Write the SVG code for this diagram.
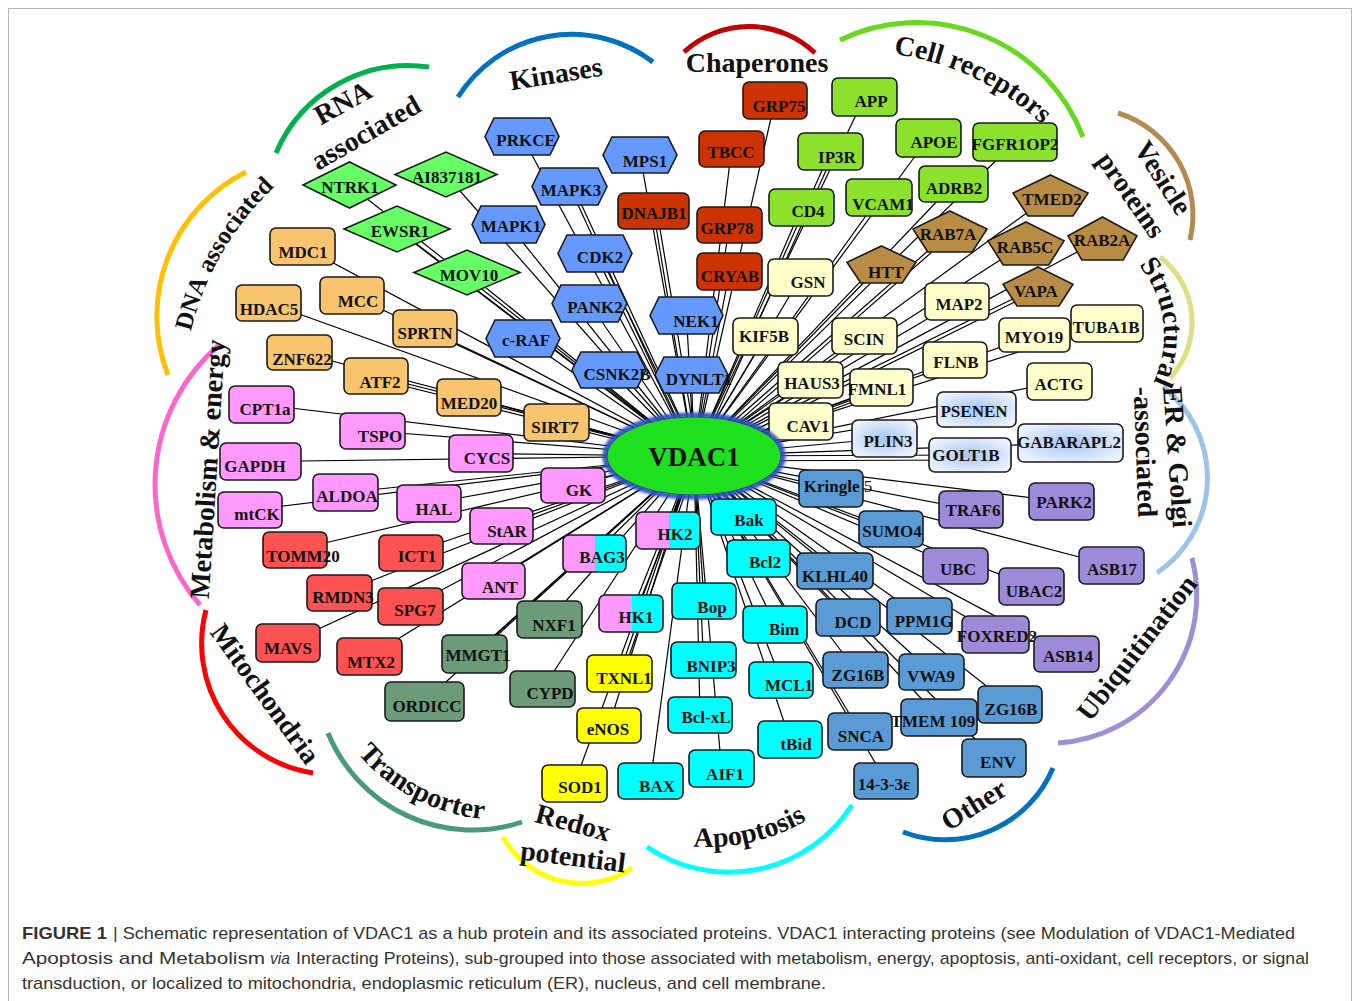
<svg xmlns="http://www.w3.org/2000/svg" width="1356" height="1001" viewBox="0 0 1356 1001">
<defs>
<style>
.n rect,.n polygon{stroke:#1a1a1a;stroke-width:1.6}
.n text{font-family:"Liberation Serif","Times New Roman",serif;font-weight:bold;font-size:17px;text-anchor:middle;fill:#111}
.dna rect{fill:#f8c46e}.met rect{fill:#ff99ff}.mito rect{fill:#ff5252}.trans rect{fill:#6b9b78}
.redox rect{fill:#ffff00}.apo rect{fill:#00ffff}.split rect{fill:url(#pc)}.oth rect{fill:#5b9bd5}
.ubi rect{fill:#9d8bd9}.er rect{fill:url(#erg)}.str rect{fill:#ffffcc}.ves polygon{fill:#b98c46}
.cr rect{fill:#8ce12c}.chap rect{fill:#cc3300}.kin polygon{fill:#6699ff}.rna polygon{fill:#66ff66}
.arc{fill:none;stroke-width:5}
.lab{font-family:"Liberation Serif","Times New Roman",serif;font-weight:bold;font-size:28px;fill:#111;text-anchor:middle}
.labs{font-family:"Liberation Serif","Times New Roman",serif;font-weight:bold;font-size:25px;fill:#111}
#edges line{stroke:#000;stroke-width:1.2}
.cap{font-family:"Liberation Sans",Arial,sans-serif;font-size:17px;fill:#333}
</style>
<linearGradient id="pc" x1="0" y1="0" x2="1" y2="0"><stop offset="0.51" stop-color="#ff99ff"/><stop offset="0.51" stop-color="#00ffff"/></linearGradient>
<radialGradient id="erg" cx="0.5" cy="0.5" r="0.6"><stop offset="0" stop-color="#a4c5f3"/><stop offset="1" stop-color="#eef4fd"/></radialGradient>
<filter id="glow" x="-20%" y="-30%" width="140%" height="160%"><feGaussianBlur stdDeviation="1.6"/></filter>
<path id="pDNA" d="M 183 397 A 292 292 0 0 1 330.8 145.1"/>
<path id="pCell" d="M 876 52.5 A 263 263 0 0 1 1054 137"/>
<path id="pStr" d="M 1135.7 261.4 A 110 110 0 0 1 1151.1 386.6"/>
<path id="pApo" d="M 648.5 838.3 A 200 200 0 0 0 843.4 793.3"/>
<path id="pTra" d="M 345.4 737.6 A 190 190 0 0 0 503.7 820"/>
</defs>
<rect x="8.5" y="8.5" width="1343" height="1010" fill="#fff" stroke="#b5b5b5"/>

<g id="category-arcs">
<path class="arc" stroke="#ffc000" d="M 168 375 A 161 161 0 0 1 246 172"/>
<path class="arc" stroke="#00b050" d="M 276 153 A 144 144 0 0 1 429 67"/>
<path class="arc" stroke="#0070c0" d="M 458 97 A 134 134 0 0 1 653 62"/>
<path class="arc" stroke="#c00000" d="M 684 52 A 95.5 95.5 0 0 1 815 53"/>
<path class="arc" stroke="#66d81e" d="M 840 40 A 178 178 0 0 1 1083 137"/>
<path class="arc" stroke="#b08c50" d="M 1118 113 A 107 107 0 0 1 1190 240"/>
<path class="arc" stroke="#dede82" d="M 1160 257 A 82 82 0 0 1 1170 378"/>
<path class="arc" stroke="#9dc3e6" d="M 1163 387 A 115 115 0 0 1 1157 573"/>
<path class="arc" stroke="#9c8fd6" d="M 1192 558 A 148 148 0 0 1 1058 743"/>
<path class="arc" stroke="#0070c0" d="M 1053 768 A 117 117 0 0 1 903 832"/>
<path class="arc" stroke="#00ffff" d="M 852 805 A 146 146 0 0 1 647 847"/>
<path class="arc" stroke="#ffff00" d="M 632 868 A 90 90 0 0 1 503 837"/>
<path class="arc" stroke="#479a7c" d="M 522 822 A 156 156 0 0 1 328 733"/>
<path class="arc" stroke="#ff0000" d="M 313 773 A 131 131 0 0 1 206 610"/>
<path class="arc" stroke="#ff66cc" d="M 200 605 A 184 184 0 0 1 219 345"/>
</g>

<g id="category-labels">
<text class="labs"><textPath href="#pDNA" startOffset="66">DNA</textPath></text>
<text class="labs"><textPath href="#pDNA" startOffset="127">associated</textPath></text>
<text class="lab" transform="translate(343,103) rotate(-29)" y="9">RNA</text>
<text class="lab" transform="translate(366,133) rotate(-30)" y="9">associated</text>
<text class="lab" transform="translate(556,74) rotate(-9)" y="9">Kinases</text>
<text class="lab" x="757" y="72">Chaperones</text>
<text class="lab"><textPath href="#pCell" startOffset="50%">Cell receptors</textPath></text>
<text class="lab" transform="translate(1163,178) rotate(57)" y="9">Vesicle</text>
<text class="lab" transform="translate(1131,195) rotate(55)" y="9">proteins</text>
<text class="lab" font-size="23"><textPath href="#pStr" startOffset="50%">Structural</textPath></text>
<text class="lab" font-size="26" transform="translate(1177,457) rotate(86)" y="9">ER &amp; Golgi</text>
<text class="lab" font-size="26" transform="translate(1145,452) rotate(88)" y="9">-associated</text>
<text class="lab" font-size="25" transform="translate(1137,648) rotate(-52)" y="9">Ubiquitination</text>
<text class="lab" font-size="27" transform="translate(974,805) rotate(-32)" y="9">Other</text>
<text class="lab"><textPath href="#pApo" startOffset="50%">Apoptosis</textPath></text>
<text class="lab" font-size="27" transform="translate(573,823) rotate(15)" y="9">Redox</text>
<text class="lab" font-size="27" transform="translate(573,857) rotate(7)" y="9">potential</text>
<text class="lab" font-size="24"><textPath href="#pTra" startOffset="50%">Transporter</textPath></text>
<text class="lab" font-size="26" transform="translate(265,694) rotate(54)" y="9">Mitochondria</text>
<text class="lab" font-size="25" transform="translate(208,469) rotate(-86.4)" y="9">Metabolism &amp; energy</text>
</g>

<g id="edges">
<line x1="302.5" y1="246.5" x2="694" y2="456"/><line x1="352" y1="295.5" x2="694" y2="456"/><line x1="268.5" y1="303" x2="694" y2="456"/><line x1="425" y1="328.5" x2="694" y2="456"/>
<line x1="299.5" y1="352.5" x2="694" y2="456"/><line x1="376" y1="376" x2="694" y2="456"/><line x1="376" y1="379" x2="694" y2="459"/><line x1="469" y1="397.5" x2="694" y2="456"/><line x1="556.5" y1="422.5" x2="694" y2="456"/>
<line x1="261.5" y1="404.5" x2="694" y2="456"/><line x1="372.5" y1="431" x2="694" y2="456"/><line x1="260.5" y1="461.5" x2="694" y2="456"/><line x1="481" y1="453.5" x2="694" y2="456"/>
<line x1="345.5" y1="492.5" x2="694" y2="456"/><line x1="250" y1="510" x2="694" y2="456"/><line x1="429" y1="503.5" x2="694" y2="456"/><line x1="501.5" y1="526" x2="694" y2="456"/><line x1="573" y1="485.5" x2="694" y2="456"/><line x1="493.5" y1="581" x2="694" y2="456"/>
<line x1="295" y1="550" x2="694" y2="456"/><line x1="411" y1="553" x2="694" y2="456"/><line x1="339.5" y1="593" x2="694" y2="456"/><line x1="410.5" y1="606.5" x2="694" y2="456"/><line x1="288" y1="643" x2="694" y2="456"/><line x1="369.5" y1="656.5" x2="694" y2="456"/>
<line x1="549.5" y1="619.5" x2="694" y2="456"/><line x1="474.5" y1="654" x2="694" y2="456"/><line x1="478" y1="650" x2="698" y2="452"/><line x1="424.5" y1="701.5" x2="694" y2="456"/><line x1="542.5" y1="689" x2="694" y2="456"/>
<line x1="619.5" y1="673.5" x2="694" y2="456"/><line x1="623" y1="673.5" x2="698" y2="456"/><line x1="609" y1="725.5" x2="694" y2="456"/><line x1="574.5" y1="783.5" x2="694" y2="456"/>
<line x1="743.5" y1="517" x2="694" y2="456"/><line x1="758.5" y1="558.5" x2="694" y2="456"/><line x1="668" y1="530.5" x2="694" y2="456"/><line x1="594.5" y1="553.5" x2="694" y2="456"/><line x1="631" y1="613.5" x2="694" y2="456"/><line x1="635" y1="613.5" x2="698" y2="456"/>
<line x1="704" y1="601" x2="694" y2="456"/><line x1="703.5" y1="660" x2="694" y2="456"/><line x1="700" y1="715" x2="694" y2="456"/><line x1="721.5" y1="768.5" x2="694" y2="456"/><line x1="650.5" y1="781" x2="694" y2="456"/>
<line x1="775" y1="624.5" x2="694" y2="456"/><line x1="781" y1="680" x2="694" y2="456"/><line x1="790" y1="739.5" x2="694" y2="456"/>
<line x1="831" y1="488.5" x2="694" y2="456"/><line x1="891" y1="529" x2="694" y2="456"/><line x1="835" y1="571" x2="694" y2="456"/><line x1="848" y1="617.5" x2="694" y2="456"/><line x1="919.5" y1="616" x2="694" y2="456"/>
<line x1="855.5" y1="670" x2="694" y2="456"/><line x1="931.5" y1="672" x2="694" y2="456"/><line x1="860" y1="731.5" x2="694" y2="456"/><line x1="939" y1="717.5" x2="694" y2="456"/><line x1="1010" y1="704.5" x2="694" y2="456"/><line x1="886" y1="781" x2="694" y2="456"/><line x1="994" y1="758" x2="694" y2="456"/>
<line x1="971" y1="509.5" x2="694" y2="456"/><line x1="1061.5" y1="501.5" x2="694" y2="456"/><line x1="1111.5" y1="565.5" x2="694" y2="456"/><line x1="955.5" y1="566" x2="694" y2="456"/><line x1="1031.5" y1="586.5" x2="694" y2="456"/><line x1="995.5" y1="634.5" x2="694" y2="456"/><line x1="1066.5" y1="654" x2="694" y2="456"/>
<line x1="976.5" y1="409.5" x2="694" y2="456"/><line x1="884.5" y1="438.5" x2="694" y2="456"/><line x1="970" y1="455" x2="694" y2="456"/><line x1="970" y1="460" x2="694" y2="461"/><line x1="1070.5" y1="443" x2="694" y2="456"/>
<line x1="800.5" y1="277.5" x2="694" y2="456"/><line x1="765.5" y1="336.5" x2="694" y2="456"/><line x1="864.5" y1="336" x2="694" y2="456"/><line x1="810.5" y1="380" x2="694" y2="456"/><line x1="801" y1="421.5" x2="694" y2="456"/><line x1="881.5" y1="387.5" x2="694" y2="456"/><line x1="881.5" y1="391.5" x2="694" y2="460"/>
<line x1="955" y1="360" x2="694" y2="456"/><line x1="957" y1="301.5" x2="694" y2="456"/><line x1="1034.5" y1="335" x2="694" y2="456"/><line x1="1107" y1="323.5" x2="694" y2="456"/><line x1="1059.5" y1="381.5" x2="694" y2="456"/>
<line x1="1050.5" y1="195.5" x2="694" y2="456"/><line x1="950" y1="231.5" x2="694" y2="456"/><line x1="953" y1="233.5" x2="697" y2="458"/><line x1="1026" y1="243.5" x2="694" y2="456"/><line x1="1102.5" y1="238.5" x2="694" y2="456"/><line x1="881.5" y1="264.5" x2="694" y2="456"/><line x1="1038" y1="286.5" x2="694" y2="456"/><line x1="1038" y1="290.5" x2="694" y2="460"/>
<line x1="864.5" y1="97" x2="694" y2="456"/><line x1="830.5" y1="151.5" x2="694" y2="456"/><line x1="834.5" y1="151.5" x2="698" y2="456"/><line x1="928.5" y1="138" x2="694" y2="456"/><line x1="1015" y1="142" x2="694" y2="456"/><line x1="801.5" y1="207.5" x2="694" y2="456"/><line x1="879" y1="197.5" x2="694" y2="456"/><line x1="953.5" y1="184" x2="694" y2="456"/>
<line x1="775" y1="100.5" x2="694" y2="456"/><line x1="731.5" y1="149" x2="694" y2="456"/><line x1="653.5" y1="211" x2="694" y2="456"/><line x1="657" y1="211" x2="698" y2="456"/><line x1="729.5" y1="225" x2="694" y2="456"/><line x1="729.5" y1="271.5" x2="694" y2="456"/>
<line x1="522" y1="136.5" x2="694" y2="456"/><line x1="569.5" y1="186.5" x2="694" y2="456"/><line x1="573" y1="186.5" x2="698" y2="456"/><line x1="640" y1="155" x2="694" y2="456"/><line x1="508.5" y1="224.5" x2="694" y2="456"/><line x1="595" y1="253.5" x2="694" y2="456"/><line x1="599" y1="253.5" x2="698" y2="456"/>
<line x1="589.5" y1="303.5" x2="694" y2="456"/><line x1="686.5" y1="315.5" x2="694" y2="456"/><line x1="523" y1="338" x2="694" y2="456"/><line x1="609" y1="370" x2="694" y2="456"/><line x1="691.5" y1="375" x2="694" y2="456"/>
<line x1="349.5" y1="185" x2="694" y2="456"/><line x1="445.5" y1="174.5" x2="694" y2="456"/><line x1="397" y1="229" x2="694" y2="456"/><line x1="400" y1="232" x2="697" y2="459"/><line x1="467" y1="272.5" x2="694" y2="456"/>
</g>

<g id="nodes">
<g id="n-MDC1" class="n dna"><rect x="270" y="228" width="65" height="37" rx="6"/><text x="303" y="258">MDC1</text></g>
<g id="n-MCC" class="n dna"><rect x="320" y="277" width="64" height="37" rx="6"/><text x="358" y="307">MCC</text></g>
<g id="n-HDAC5" class="n dna"><rect x="236" y="285" width="65" height="36" rx="6"/><text x="269" y="315">HDAC5</text></g>
<g id="n-SPRTN" class="n dna"><rect x="393" y="310" width="64" height="37" rx="6"/><text x="425" y="339">SPRTN</text></g>
<g id="n-ZNF622" class="n dna"><rect x="267" y="335" width="65" height="35" rx="6"/><text x="302" y="365">ZNF622</text></g>
<g id="n-ATF2" class="n dna"><rect x="344" y="358" width="64" height="36" rx="6"/><text x="380" y="388">ATF2</text></g>
<g id="n-MED20" class="n dna"><rect x="437" y="379" width="64" height="37" rx="6"/><text x="469" y="409">MED20</text></g>
<g id="n-SIRT7" class="n dna"><rect x="524" y="404" width="65" height="37" rx="6"/><text x="555" y="433">SIRT7</text></g>

<g id="n-CPT1a" class="n met"><rect x="229" y="386" width="65" height="37" rx="6"/><text x="265" y="415">CPT1a</text></g>
<g id="n-TSPO" class="n met"><rect x="340" y="413" width="65" height="36" rx="6"/><text x="380" y="442">TSPO</text></g>
<g id="n-GAPDH" class="n met"><rect x="220" y="443" width="81" height="37" rx="6"/><text x="255" y="472">GAPDH</text></g>
<g id="n-CYCS" class="n met"><rect x="449" y="435" width="64" height="37" rx="6"/><text x="487" y="464">CYCS</text></g>
<g id="n-ALDOA" class="n met"><rect x="313" y="474" width="65" height="37" rx="6"/><text x="347" y="502">ALDOA</text></g>
<g id="n-mtCK" class="n met"><rect x="218" y="492" width="64" height="36" rx="6"/><text x="257" y="520">mtCK</text></g>
<g id="n-HAL" class="n met"><rect x="397" y="485" width="64" height="37" rx="6"/><text x="434" y="515">HAL</text></g>
<g id="n-StAR" class="n met"><rect x="470" y="508" width="63" height="36" rx="6"/><text x="507" y="537">StAR</text></g>
<g id="n-GK" class="n met"><rect x="541" y="468" width="64" height="35" rx="6"/><text x="579" y="496">GK</text></g>
<g id="n-ANT" class="n met"><rect x="462" y="563" width="63" height="36" rx="6"/><text x="500" y="593">ANT</text></g>

<g id="n-TOMM20" class="n mito"><rect x="263" y="532" width="64" height="36" rx="6"/><text x="303" y="562">TOMM20</text></g>
<g id="n-ICT1" class="n mito"><rect x="379" y="535" width="64" height="36" rx="6"/><text x="417" y="562">ICT1</text></g>
<g id="n-RMDN3" class="n mito"><rect x="307" y="575" width="65" height="36" rx="6"/><text x="343" y="603" font-size="16">RMDN3</text></g>
<g id="n-SPG7" class="n mito"><rect x="378" y="588" width="65" height="37" rx="6"/><text x="415" y="616">SPG7</text></g>
<g id="n-MAVS" class="n mito"><rect x="256" y="624" width="64" height="38" rx="6"/><text x="288" y="654">MAVS</text></g>
<g id="n-MTX2" class="n mito"><rect x="337" y="638" width="65" height="37" rx="6"/><text x="371" y="668">MTX2</text></g>

<g id="n-NXF1" class="n trans"><rect x="517" y="601" width="65" height="37" rx="6"/><text x="554" y="631" font-size="15">NXF1</text></g>
<g id="n-MMGT1" class="n trans"><rect x="442" y="635" width="65" height="38" rx="6"/><text x="478" y="661" font-size="15">MMGT1</text></g>
<g id="n-ORDICC" class="n trans"><rect x="385" y="682" width="79" height="39" rx="6"/><text x="427" y="712">ORDICC</text></g>
<g id="n-CYPD" class="n trans"><rect x="510" y="671" width="65" height="36" rx="6"/><text x="550" y="699" font-size="15">CYPD</text></g>

<g id="n-TXNL1" class="n redox"><rect x="587" y="655" width="65" height="37" rx="6"/><text x="624" y="684">TXNL1</text></g>
<g id="n-eNOS" class="n redox"><rect x="577" y="708" width="64" height="35" rx="6"/><text x="608" y="735">eNOS</text></g>
<g id="n-SOD1" class="n redox"><rect x="542" y="765" width="65" height="37" rx="6"/><text x="580" y="793">SOD1</text></g>

<g id="n-Bak" class="n apo"><rect x="711" y="499" width="65" height="36" rx="6"/><text x="749" y="526" font-size="18">Bak</text></g>
<g id="n-Bcl2" class="n apo"><rect x="727" y="540" width="63" height="37" rx="6"/><text x="765" y="568" font-size="19">Bcl2</text></g>
<g id="n-HK2" class="n split"><rect x="636" y="512" width="64" height="37" rx="6"/><text x="675" y="540">HK2</text></g>
<g id="n-BAG3" class="n split"><rect x="563" y="535" width="63" height="37" rx="6"/><text x="602" y="563">BAG3</text></g>
<g id="n-HK1" class="n split"><rect x="599" y="595" width="64" height="37" rx="6"/><text x="636" y="623">HK1</text></g>
<g id="n-Bop" class="n apo"><rect x="672" y="583" width="64" height="36" rx="6"/><text x="712" y="613">Bop</text></g>
<g id="n-BNIP3" class="n apo"><rect x="671" y="642" width="65" height="36" rx="6"/><text x="711" y="672">BNIP3</text></g>
<g id="n-Bcl-xL" class="n apo"><rect x="668" y="697" width="64" height="36" rx="6"/><text x="706" y="723">Bcl-xL</text></g>
<g id="n-AIF1" class="n apo"><rect x="689" y="750" width="65" height="37" rx="6"/><text x="725" y="780">AIF1</text></g>
<g id="n-BAX" class="n apo"><rect x="618" y="763" width="65" height="36" rx="6"/><text x="657" y="792">BAX</text></g>
<g id="n-Bim" class="n apo"><rect x="743" y="606" width="64" height="37" rx="6"/><text x="784" y="635">Bim</text></g>
<g id="n-MCL1" class="n apo"><rect x="749" y="662" width="64" height="36" rx="6"/><text x="789" y="691">MCL1</text></g>
<g id="n-tBid" class="n apo"><rect x="758" y="721" width="64" height="37" rx="6"/><text x="796" y="750">tBid</text></g>

<g id="n-Kringle5" class="n oth"><rect x="799" y="470" width="64" height="37" rx="6"/><text x="838" y="492">Kringle<tspan font-weight="normal"> 5</tspan></text></g>
<g id="n-SUMO4" class="n oth"><rect x="859" y="511" width="64" height="36" rx="6"/><text x="892" y="537">SUMO4</text></g>
<g id="n-KLHL40" class="n oth"><rect x="797" y="553" width="76" height="36" rx="6"/><text x="835" y="582">KLHL40</text></g>
<g id="n-DCD" class="n oth"><rect x="816" y="599" width="64" height="37" rx="6"/><text x="853" y="628">DCD</text></g>
<g id="n-PPM1G" class="n oth"><rect x="887" y="598" width="65" height="36" rx="6"/><text x="924" y="627">PPM1G</text></g>
<g id="n-ZG16B-a" class="n oth"><rect x="823" y="652" width="65" height="36" rx="6"/><text x="858" y="681">ZG16B</text></g>
<g id="n-VWA9" class="n oth"><rect x="899" y="654" width="65" height="36" rx="6"/><text x="931" y="682">VWA9</text></g>
<g id="n-SNCA" class="n oth"><rect x="828" y="713" width="64" height="37" rx="6"/><text x="861" y="742">SNCA</text></g>
<g id="n-TMEM109" class="n oth"><rect x="901" y="699" width="76" height="37" rx="6"/><text x="933" y="727" font-size="14">TMEM 109</text></g>
<g id="n-ZG16B-b" class="n oth"><rect x="978" y="686" width="64" height="37" rx="6"/><text x="1011" y="715">ZG16B</text></g>
<g id="n-14-3-3e" class="n oth"><rect x="854" y="763" width="64" height="36" rx="6"/><text x="884" y="790">14-3-3ε</text></g>
<g id="n-ENV" class="n oth"><rect x="962" y="739" width="64" height="38" rx="6"/><text x="998" y="768" font-size="16">ENV</text></g>

<g id="n-TRAF6" class="n ubi"><rect x="939" y="491" width="64" height="37" rx="6"/><text x="973" y="516">TRAF6</text></g>
<g id="n-PARK2" class="n ubi"><rect x="1029" y="483" width="65" height="37" rx="6"/><text x="1064" y="508">PARK2</text></g>
<g id="n-ASB17" class="n ubi"><rect x="1079" y="547" width="65" height="37" rx="6"/><text x="1112" y="575">ASB17</text></g>
<g id="n-UBC" class="n ubi"><rect x="923" y="548" width="65" height="36" rx="6"/><text x="958" y="575">UBC</text></g>
<g id="n-UBAC2" class="n ubi"><rect x="999" y="568" width="65" height="37" rx="6"/><text x="1034" y="597">UBAC2</text></g>
<g id="n-FOXRED2" class="n ubi"><rect x="962" y="616" width="67" height="37" rx="6"/><text x="997" y="642" font-size="14">FOXRED2</text></g>
<g id="n-ASB14" class="n ubi"><rect x="1034" y="636" width="65" height="36" rx="6"/><text x="1068" y="662">ASB14</text></g>

<g id="n-PSENEN" class="n er"><rect x="937" y="392" width="79" height="35" rx="6"/><text x="974" y="417">PSENEN</text></g>
<g id="n-PLIN3" class="n er"><rect x="852" y="420" width="65" height="37" rx="6"/><text x="888" y="447">PLIN3</text></g>
<g id="n-GOLT1B" class="n er"><rect x="929" y="438" width="82" height="34" rx="6"/><text x="966" y="461" font-size="16">GOLT1B</text></g>
<g id="n-GABARAPL2" class="n er"><rect x="1018" y="424" width="105" height="38" rx="6"/><text x="1069" y="448" font-size="15">GABARAPL2</text></g>

<g id="n-GSN" class="n str"><rect x="768" y="259" width="65" height="37" rx="6"/><text x="808" y="288">GSN</text></g>
<g id="n-KIF5B" class="n str"><rect x="733" y="318" width="65" height="37" rx="6"/><text x="764" y="342">KIF5B</text></g>
<g id="n-SCIN" class="n str"><rect x="832" y="318" width="65" height="36" rx="6"/><text x="864" y="345">SCIN</text></g>
<g id="n-HAUS3" class="n str"><rect x="778" y="362" width="65" height="36" rx="6"/><text x="812" y="389">HAUS3</text></g>
<g id="n-CAV1" class="n str"><rect x="769" y="403" width="64" height="37" rx="6"/><text x="808" y="432">CAV1</text></g>
<g id="n-FMNL1" class="n str"><rect x="850" y="369" width="63" height="37" rx="6"/><text x="877" y="395">FMNL1</text></g>
<g id="n-FLNB" class="n str"><rect x="923" y="342" width="64" height="36" rx="6"/><text x="956" y="368">FLNB</text></g>
<g id="n-MAP2" class="n str"><rect x="925" y="283" width="64" height="37" rx="6"/><text x="959" y="310">MAP2</text></g>
<g id="n-MYO19" class="n str"><rect x="999" y="318" width="71" height="34" rx="6"/><text x="1034" y="343">MYO19</text></g>
<g id="n-TUBA1B" class="n str"><rect x="1071" y="305" width="72" height="37" rx="6"/><text x="1106" y="333">TUBA1B</text></g>
<g id="n-ACTG" class="n str"><rect x="1027" y="363" width="65" height="37" rx="6"/><text x="1059" y="390">ACTG</text></g>

<g id="n-TMED2" class="n ves"><polygon points="1050.5,175 1088,193 1073,216 1028,216 1013,193"/><text x="1052" y="205">TMED2</text></g>
<g id="n-RAB7A" class="n ves"><polygon points="950,211 987,229 972.2,252 927.8,252 913,229"/><text x="948" y="240">RAB7A</text></g>
<g id="n-RAB5C" class="n ves"><polygon points="1026,222 1064,240.9 1048.8,265 1003.2,265 988,240.9"/><text x="1025" y="253">RAB5C</text></g>
<g id="n-RAB2A" class="n ves"><polygon points="1102.5,217 1137,235.9 1123.2,260 1081.8,260 1068,235.9"/><text x="1102" y="246">RAB2A</text></g>
<g id="n-HTT" class="n ves"><polygon points="881.5,246 916,262.3 902.2,283 860.8,283 847,262.3"/><text x="886" y="278">HTT</text></g>
<g id="n-VAPA" class="n ves"><polygon points="1038,267 1073,284.2 1059,306 1017,306 1003,284.2"/><text x="1036" y="297">VAPA</text></g>

<g id="n-APP" class="n cr"><rect x="832" y="78" width="65" height="38" rx="6"/><text x="871" y="107">APP</text></g>
<g id="n-IP3R" class="n cr"><rect x="798" y="133" width="65" height="37" rx="6"/><text x="837" y="163">IP3R</text></g>
<g id="n-APOE" class="n cr"><rect x="896" y="119" width="65" height="38" rx="6"/><text x="934" y="148">APOE</text></g>
<g id="n-FGFR1OP2" class="n cr"><rect x="973" y="123" width="84" height="38" rx="6"/><text x="1015" y="150" font-size="15">FGFR1OP2</text></g>
<g id="n-CD4" class="n cr"><rect x="769" y="189" width="65" height="37" rx="6"/><text x="808" y="217">CD4</text></g>
<g id="n-VCAM1" class="n cr"><rect x="846" y="179" width="66" height="37" rx="6"/><text x="883" y="210">VCAM1</text></g>
<g id="n-ADRB2" class="n cr"><rect x="919" y="166" width="69" height="36" rx="6"/><text x="954" y="194">ADRB2</text></g>

<g id="n-GRP75" class="n chap"><rect x="743" y="82" width="64" height="37" rx="6"/><text x="779" y="112">GRP75</text></g>
<g id="n-TBCC" class="n chap"><rect x="699" y="131" width="65" height="36" rx="6"/><text x="731" y="158">TBCC</text></g>
<g id="n-DNAJB1" class="n chap"><rect x="618" y="193" width="71" height="36" rx="6"/><text x="654" y="219">DNAJB1</text></g>
<g id="n-GRP78" class="n chap"><rect x="697" y="207" width="65" height="36" rx="6"/><text x="727" y="234">GRP78</text></g>
<g id="n-CRYAB" class="n chap"><rect x="697" y="253" width="65" height="37" rx="6"/><text x="730" y="282">CRYAB</text></g>

<g id="n-PRKCE" class="n kin"><polygon points="485,136.5 494,118 550,118 559,136.5 550,155 494,155"/><text x="526" y="146">PRKCE</text></g>
<g id="n-MAPK3" class="n kin"><polygon points="532,186.5 541,168 598,168 607,186.5 598,205 541,205"/><text x="571" y="196">MAPK3</text></g>
<g id="n-MPS1" class="n kin"><polygon points="603,155 612,137 668,137 677,155 668,173 612,173"/><text x="645" y="167">MPS1</text></g>
<g id="n-MAPK1" class="n kin"><polygon points="472,224.5 481,206 536,206 545,224.5 536,243 481,243"/><text x="511" y="232">MAPK1</text></g>
<g id="n-CDK2" class="n kin"><polygon points="558,253.5 567,235 623,235 632,253.5 623,272 567,272"/><text x="600" y="263">CDK2</text></g>
<g id="n-PANK2" class="n kin"><polygon points="552,303.5 561,285 618,285 627,303.5 618,322 561,322"/><text x="595" y="313">PANK2</text></g>
<g id="n-NEK1" class="n kin"><polygon points="650,315.5 659,297 714,297 723,315.5 714,334 659,334"/><text x="696" y="327">NEK1</text></g>
<g id="n-c-RAF" class="n kin"><polygon points="486,338.5 495,320 551,320 560,338.5 551,357 495,357"/><text x="526" y="346">c-RAF</text></g>
<g id="n-CSNK2B" class="n kin"><polygon points="572,370 581,352 637,352 646,370 637,388 581,388"/><text x="617" y="380">CSNK2B</text></g>
<g id="n-DYNLT1" class="n kin"><polygon points="655,375 664,357 719,357 728,375 719,393 664,393"/><text x="699" y="385">DYNLT1</text></g>

<g id="n-NTRK1" class="n rna"><polygon points="303,185 349.5,162 396,185 349.5,208"/><text x="350" y="193">NTRK1</text></g>
<g id="n-AI837181" class="n rna"><polygon points="395,174.5 446,152 497,174.5 446,197"/><text x="447" y="183">AI837181</text></g>
<g id="n-EWSR1" class="n rna"><polygon points="344,229 397,206 450,229 397,252"/><text x="400" y="237">EWSR1</text></g>
<g id="n-MOV10" class="n rna"><polygon points="414,272.5 467,250 520,272.5 467,295"/><text x="469" y="281">MOV10</text></g>

<g id="n-VDAC1">
<ellipse cx="694" cy="456" rx="89" ry="41" fill="none" stroke="#2d4fc0" stroke-width="5" filter="url(#glow)"/>
<ellipse cx="694" cy="456" rx="87" ry="39" fill="#1fe01f" stroke="#2a46b0" stroke-width="1.2"/>
<text x="694" y="466" font-family="Liberation Serif,Times New Roman,serif" font-weight="bold" font-size="27" text-anchor="middle" fill="#111">VDAC1</text>
</g>
</g>

<g id="caption">
<text class="cap" x="22" y="939" font-weight="bold" textLength="85" lengthAdjust="spacingAndGlyphs">FIGURE 1</text>
<text class="cap" x="113" y="939" textLength="1182" lengthAdjust="spacingAndGlyphs">| Schematic representation of VDAC1 as a hub protein and its associated proteins. VDAC1 interacting proteins (see Modulation of VDAC1-Mediated</text>
<text class="cap" x="22" y="964" textLength="243" lengthAdjust="spacingAndGlyphs">Apoptosis and Metabolism</text>
<text class="cap" x="270" y="964" font-style="italic" textLength="20" lengthAdjust="spacingAndGlyphs">via</text>
<text class="cap" x="296" y="964" textLength="1013" lengthAdjust="spacingAndGlyphs">Interacting Proteins), sub-grouped into those associated with metabolism, energy, apoptosis, anti-oxidant, cell receptors, or signal</text>
<text class="cap" x="22" y="989" textLength="804" lengthAdjust="spacingAndGlyphs">transduction, or localized to mitochondria, endoplasmic reticulum (ER), nucleus, and cell membrane.</text>
</g>
</svg>
